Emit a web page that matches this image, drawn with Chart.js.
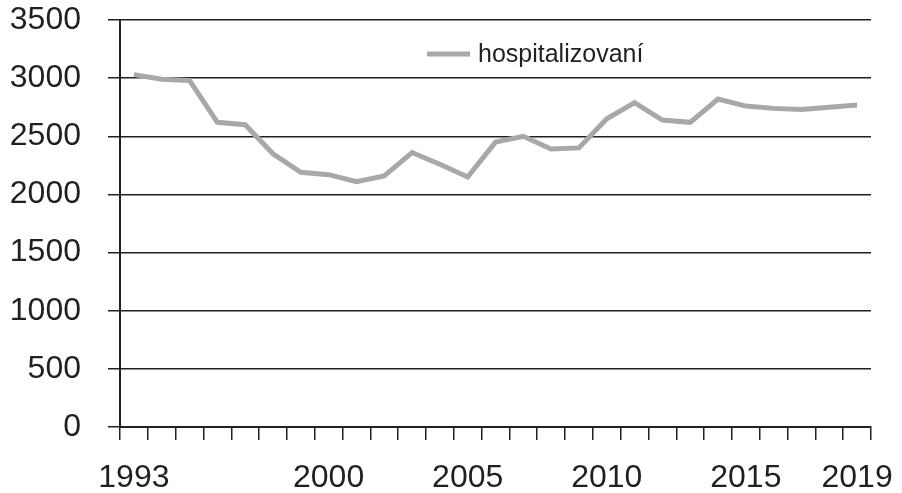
<!DOCTYPE html>
<html>
<head>
<meta charset="utf-8">
<script src="https://cdn.jsdelivr.net/npm/chart.js@4/dist/chart.umd.min.js"></script>
<style>
  html, body { margin: 0; padding: 0; background: #fff; overflow: hidden; }
  canvas { display: block; }
</style>
</head>
<body>
<canvas id="chart" width="902" height="493"></canvas>
<script>
// Data
const years = [];
for (let y = 1993; y <= 2019; y++) years.push(String(y));
const shownYears = ['1993', '2000', '2005', '2010', '2015', '2019'];
const hospitalized = [3030, 2990, 2980, 2620, 2600, 2350, 2190, 2170, 2110, 2160,
                      2360, 2260, 2150, 2450, 2500, 2390, 2400, 2650, 2790, 2640,
                      2620, 2820, 2760, 2740, 2730, 2750, 2770];
const seriesName = 'hospitalizovaní';

const lineColor = '#a7a8aa';
const inkColor = '#231f20';
const fontFamily = '"Liberation Sans", Arial, sans-serif';

// legend drawn inside the plot area
const insideLegend = {
    id: 'insideLegend',
    afterDraw(chart) {
        const ctx = chart.ctx;
        const ds = chart.data.datasets[0];
        ctx.save();
        ctx.strokeStyle = ds.borderColor;
        ctx.lineWidth = 5;
        ctx.beginPath();
        ctx.moveTo(427, 54);
        ctx.lineTo(470, 54);
        ctx.stroke();
        ctx.fillStyle = inkColor;
        ctx.font = '25px ' + fontFamily;
        ctx.textBaseline = 'middle';
        ctx.fillText(ds.label, 478, 55);
        ctx.restore();
    }
};

new Chart(document.getElementById('chart').getContext('2d'), {
    type: 'line',
    data: {
        labels: years,
        datasets: [{
            label: seriesName,
            data: hospitalized,
            borderColor: lineColor,
            backgroundColor: lineColor,
            borderWidth: 5,
            pointRadius: 0,
            tension: 0
        }]
    },
    options: {
        responsive: false,
        devicePixelRatio: 1,
        animation: false,
        layout: { padding: { left: 10, right: 31, top: 0, bottom: 0 } },
        plugins: {
            legend: { display: false },
            tooltip: { enabled: false }
        },
        scales: {
            x: {
                offset: true,
                afterFit(scale) {
                    scale.paddingLeft = 0;
                    scale.paddingRight = 0;
                    scale.height = 66;
                },
                grid: {
                    offset: true,
                    drawOnChartArea: false,
                    drawTicks: true,
                    tickLength: 13,
                    color: inkColor,
                    lineWidth: 1.5
                },
                border: { color: inkColor, width: 2 },
                ticks: {
                    autoSkip: false,
                    maxRotation: 0,
                    padding: 19,
                    color: inkColor,
                    font: { family: fontFamily, size: 32 },
                    callback: function (value, index) {
                        const lab = this.getLabelForValue(value);
                        return shownYears.includes(lab) ? lab : '';
                    }
                }
            },
            y: {
                min: 0,
                max: 3500,
                afterFit(scale) {
                    scale.paddingTop = 20;
                    scale.paddingBottom = 0;
                    scale.width = 110;
                },
                grid: {
                    color: inkColor,
                    lineWidth: 1.5,
                    tickLength: 12
                },
                border: { color: inkColor, width: 2 },
                ticks: {
                    stepSize: 500,
                    padding: 27,
                    color: inkColor,
                    font: { family: fontFamily, size: 32 },
                    callback: (v) => String(v)
                }
            }
        }
    },
    plugins: [insideLegend]
});
</script>
</body>
</html>
